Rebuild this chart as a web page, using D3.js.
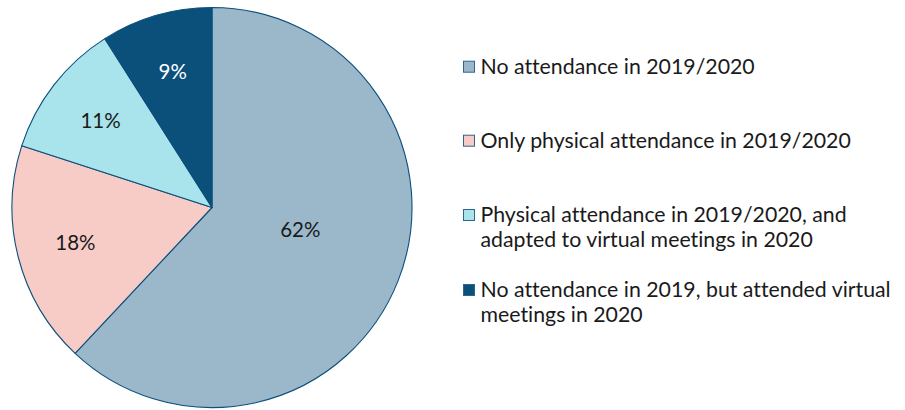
<!DOCTYPE html>
<html>
<head>
<meta charset="utf-8">
<script src="https://cdn.jsdelivr.net/npm/d3@7"></script>
<style>
  html, body { margin: 0; padding: 0; background: #fff; }
  svg { display: block; font-family: Lato, "Noto Sans", sans-serif; }
</style>
</head>
<body>
<svg id="chart" width="905" height="410"></svg>
<script>
// Share of respondents by attendance pattern
const categories = [
  ["No attendance in 2019/2020"],
  ["Only physical attendance in 2019/2020"],
  ["Physical attendance in 2019/2020, and", "adapted to virtual meetings in 2020"],
  ["No attendance in 2019, but attended virtual", "meetings in 2020"]
];
const values = [62, 18, 11, 9];
const valueLabels = ["62%", "18%", "11%", "9%"];
const colors = ["#9bb8cb", "#f8ccc6", "#a9e3ec", "#0b4f7b"];
const labelColors = ["#1a1a1a", "#1a1a1a", "#1a1a1a", "#ffffff"];

const svg = d3.select("#chart");
const cx = 212, cy = 207.5, radius = 200;

const pie = d3.pie().sort(null).value(d => d)(values);
const arc = d3.arc().innerRadius(0).outerRadius(radius);

const g = svg.append("g").attr("transform", `translate(${cx},${cy})`);

g.selectAll("path.slice")
  .data(pie)
  .join("path")
  .attr("class", "slice")
  .attr("d", arc)
  .attr("fill", (d, i) => colors[i])
  .attr("stroke", "#0c4f7c")
  .attr("stroke-width", 1.1)
  .attr("stroke-linejoin", "round");

// Data labels: small slices get theirs near the rim, the large one nearer the centre
function labelPos(d, i) {
  const big = (d.endAngle - d.startAngle) > Math.PI;
  const r = big ? radius * 0.455 : radius * 0.705;
  const a = big ? d.startAngle + (d.endAngle - d.startAngle) * 0.466
                : (d.startAngle + d.endAngle) / 2;
  return [r * Math.sin(a), -r * Math.cos(a)];
}

g.selectAll("text.value")
  .data(pie)
  .join("text")
  .attr("class", "value")
  .attr("transform", (d, i) => `translate(${labelPos(d, i)})`)
  .attr("text-anchor", "middle")
  .attr("dy", "0.36em")
  .attr("font-size", 20.5)
  .attr("fill", (d, i) => labelColors[i])
  .text((d, i) => valueLabels[i]);

// Legend
const legendX = 463;
const rowBaseline = [74, 148, 222.3, 297.3];
const lineH = 25;

const items = svg.append("g").selectAll("g.item")
  .data(categories)
  .join("g")
  .attr("class", "item")
  .attr("transform", (d, i) => `translate(${legendX},${rowBaseline[i]})`);

items.append("rect")
  .attr("x", 0.5).attr("y", -12.8)
  .attr("width", 11).attr("height", 11)
  .attr("fill", (d, i) => colors[i])
  .attr("stroke", "#2a6690")
  .attr("stroke-width", 1);

items.append("text")
  .attr("font-size", 21.3)
  .attr("fill", "#1a1a1a")
  .style("font-variant-ligatures", "none")
  .selectAll("tspan")
  .data(d => d)
  .join("tspan")
  .attr("x", 17.5)
  .attr("y", (d, j) => j * lineH)
  .text(d => d);
</script>
</body>
</html>
